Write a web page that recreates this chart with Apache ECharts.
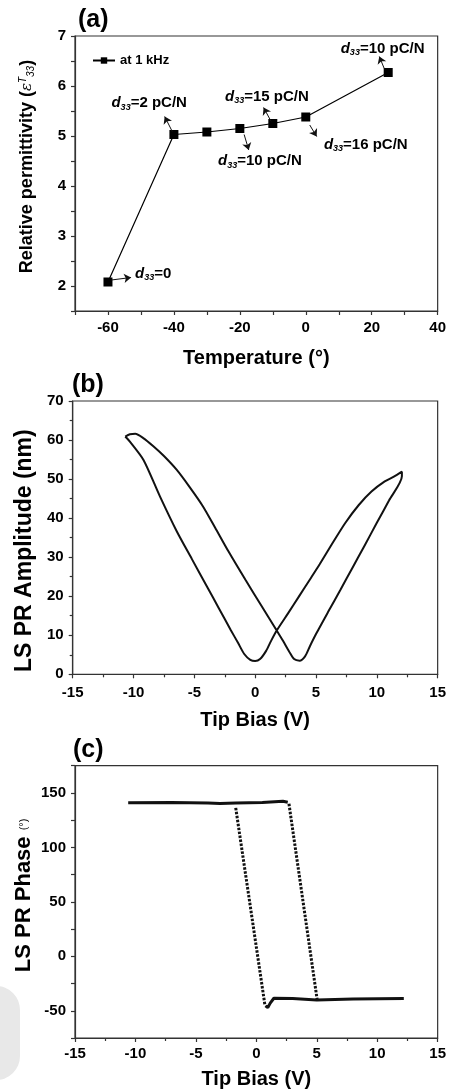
<!DOCTYPE html>
<html><head><meta charset="utf-8">
<script src="https://cdn.jsdelivr.net/npm/echarts@6/dist/echarts.min.js"></script>
<style>html,body{margin:0;padding:0;background:#fff}#c{width:449px;height:1090px}</style>
</head><body><div id="c"></div>
<script>
// ---------- Panel (a): relative permittivity vs temperature ----------
const tempC = [-60, -40, -30, -20, -10, 0, 25];
const permittivity = [2.08, 5.03, 5.08, 5.15, 5.25, 5.38, 6.27];
// d33 notes: label text, label anchor [x,y], arrow tail [x,y], arrow head [x,y]
const noteText = ['=0', '=2 pC/N', '=10 pC/N', '=15 pC/N', '=16 pC/N', '=10 pC/N'];
const noteAt   = [[-46.3, 2.25], [-47.5, 5.66], [-13.9, 4.50], [-11.8, 5.79], [18.2, 4.83], [23.3, 6.75]];
const noteTail = [[-59.0, 2.12], [-40.5, 5.09], [-18.7, 5.03], [-10.5, 5.29], [1.2, 5.22], [23.8, 6.35]];
const noteHead = [[-53.0, 2.17], [-42.8, 5.39], [-17.3, 4.72], [-12.8, 5.57], [3.3, 4.99], [22.3, 6.59]];

// ---------- Panel (b): LS PR amplitude loop (V, nm) ----------
const ampSweepA = [[-10.68,60.9],[-10.3,59.6],[-9.18,54.9],[-7.82,45.5],[-6.46,36.7],[-5.2,29.5],[-4.0,22.7],[-3.0,17.0],[-2.0,11.3],[-1.4,8.0],[-0.9,5.2],[-0.4,3.7],[0.0,3.4],[0.4,3.9],[0.9,6.0],[1.3,8.5],[1.77,11.2],[2.7,15.6],[3.59,19.9],[4.5,24.3],[5.3,28.2],[6.3,33.3],[7.39,38.7],[8.5,43.3],[9.56,46.8],[10.65,49.4],[11.4,50.6],[12.06,51.9]];
const ampSweepB = [[12.06,50.7],[11.0,44.5],[10.0,38.8],[9.0,33.0],[8.0,27.3],[7.0,21.6],[6.0,16.0],[5.0,10.3],[4.5,7.2],[4.1,4.6],[3.65,3.5],[3.2,3.9],[2.8,5.8],[2.3,8.5],[1.77,11.2],[0.5,17.6],[-0.8,24.2],[-2.2,31.5],[-3.3,37.6],[-4.29,43.0],[-5.4,48.0],[-6.46,52.4],[-7.5,55.9],[-8.37,58.4],[-9.2,60.5],[-9.86,61.6],[-10.3,61.5],[-10.68,60.9]];

// ---------- Panel (c): LS PR phase loop (V, deg) ----------
const phaseUpper = [[-10.6,141.0],[-7.0,141.2],[-4.0,140.8],[-3.0,140.2],[-1.7,140.8],[0.5,141.2],[2.2,142.4],[2.6,141.5]];
const phaseLower = [[0.75,-45.5],[0.95,-47.0],[1.15,-43.0],[1.45,-38.5],[3.0,-38.8],[5.0,-40.2],[8.0,-39.3],[12.2,-38.8]];
const phaseSwitchUp = [[0.7,-44.0],[-1.72,137.5]];
const phaseSwitchDown = [[2.7,140.0],[5.04,-40.4]];

const FONT = '"Liberation Sans", Arial, sans-serif';
const AX = '#333';
const INK = '#000';

function axisCommon(extra) {
  return Object.assign({
    type: 'value',
    splitLine: { show: false },
    axisLine: { show: true, onZero: false, lineStyle: { color: AX, width: 1.2 } },
    axisTick: { show: true, inside: false, length: 4, lineStyle: { color: AX, width: 1.2 } },
    axisLabel: { color: INK, fontFamily: FONT, fontWeight: 'bold', fontSize: 15, margin: 8 },
    nameLocation: 'middle',
    nameTextStyle: { color: INK, fontFamily: FONT, fontWeight: 'bold', fontSize: 20 }
  }, extra);
}

const chart = echarts.init(document.getElementById('c'), null, { renderer: 'canvas' });

const noteData = noteText.map((t, i) => [noteAt[i][0], noteAt[i][1], t]);
const arrowData = noteTail.map((t, i) => [{ coord: t }, { coord: noteHead[i] }]);

const option = {
  animation: false,
  backgroundColor: '#fff',
  grid: [
    { left: 75, right: 7.5, top: 36, height: 275, show: true, borderColor: AX, borderWidth: 1.2 },
    { left: 72.7, right: 8, top: 401, height: 273.3, show: true, borderColor: AX, borderWidth: 1.2 },
    { left: 75, right: 7.3, top: 765.7, height: 273.6, show: true, borderColor: AX, borderWidth: 1.2 }
  ],
  legend: {
    data: ['at 1 kHz'], left: 92, top: 54, padding: 0,
    itemWidth: 22, itemHeight: 8, itemGap: 4,
    textStyle: { color: INK, fontFamily: FONT, fontWeight: 'bold', fontSize: 13 }
  },
  xAxis: [
    axisCommon({ gridIndex: 0, min: -70, max: 40, interval: 10,
      axisLabel: { color: INK, fontFamily: FONT, fontWeight: 'bold', fontSize: 15, margin: 9,
        formatter: v => (v % 20 === 0 ? String(v) : '') },
      name: 'Temperature (°)', nameGap: 37 }),
    axisCommon({ gridIndex: 1, min: -15, max: 15, interval: 5,
      minorTick: { show: true, splitNumber: 2, length: 3, lineStyle: { color: AX, width: 1.2 } },
      axisLabel: { color: INK, fontFamily: FONT, fontWeight: 'bold', fontSize: 15, margin: 11 },
      name: 'Tip Bias (V)', nameGap: 36 }),
    axisCommon({ gridIndex: 2, min: -15, max: 15, interval: 5,
      minorTick: { show: true, splitNumber: 2, length: 3, lineStyle: { color: AX, width: 1.2 } },
      axisLabel: { color: INK, fontFamily: FONT, fontWeight: 'bold', fontSize: 15, margin: 8 },
      name: 'Tip Bias (V)', nameGap: 31 })
  ],
  yAxis: [
    axisCommon({ gridIndex: 0, min: 1.5, max: 7, interval: 0.5,
      axisLabel: { color: INK, fontFamily: FONT, fontWeight: 'bold', fontSize: 15, margin: 9,
        formatter: v => (Math.abs(v - Math.round(v)) < 1e-6 ? String(Math.round(v)) : '') },
      name: 'Relative permittivity ({e|ε}{t|T}{s|33})', nameGap: 39,
      nameTextStyle: { color: INK, fontFamily: FONT, fontWeight: 'bold', fontSize: 18, padding: [0, 0, 0, 14],
        rich: {
          e: { fontFamily: '"DejaVu Serif", serif', fontStyle: 'italic', fontWeight: 'normal', fontSize: 15, color: INK },
          t: { fontFamily: FONT, fontStyle: 'italic', fontWeight: 'normal', fontSize: 10, verticalAlign: 'top', color: INK },
          s: { fontFamily: FONT, fontStyle: 'italic', fontWeight: 'normal', fontSize: 10, verticalAlign: 'bottom', color: INK }
        } } }),
    axisCommon({ gridIndex: 1, min: 0, max: 70, interval: 10,
      minorTick: { show: true, splitNumber: 2, length: 3, lineStyle: { color: AX, width: 1.2 } },
      axisLabel: { color: INK, fontFamily: FONT, fontWeight: 'bold', fontSize: 15, margin: 9 },
      name: 'LS PR Amplitude (nm)', nameGap: 36,
      nameTextStyle: { color: INK, fontFamily: FONT, fontWeight: 'bold', fontSize: 23, padding: [0, 26, 0, 0] } }),
    axisCommon({ gridIndex: 2, min: -75, max: 175, interval: 25,
      axisLabel: { color: INK, fontFamily: FONT, fontWeight: 'bold', fontSize: 15, margin: 9,
        formatter: v => (v % 50 === 0 ? String(v) : '') },
      name: 'LS PR Phase {u|(°)}', nameGap: 40, nameMoveOverlap: false,
      nameTextStyle: { color: INK, fontFamily: FONT, fontWeight: 'bold', fontSize: 22, padding: [0, 0, 0, 13],
        rich: { u: { fontFamily: FONT, fontWeight: 'normal', fontSize: 11, color: INK } } } })
  ],
  series: [
    {
      name: 'at 1 kHz', type: 'line', xAxisIndex: 0, yAxisIndex: 0,
      data: tempC.map((t, i) => [t, permittivity[i]]),
      symbol: 'rect', symbolSize: 9, showSymbol: true,
      itemStyle: { color: '#000' }, lineStyle: { color: '#000', width: 1.2 },
      markLine: {
        silent: true, symbol: ['none', 'arrow'], symbolSize: 7,
        label: { show: false },
        itemStyle: { color: '#111' },
        lineStyle: { color: '#111', width: 1, type: 'solid' },
        emphasis: { disabled: true },
        data: arrowData
      }
    },
    {
      name: 'notes', type: 'scatter', xAxisIndex: 0, yAxisIndex: 0,
      data: noteData, symbolSize: 0, silent: true,
      itemStyle: { opacity: 1 },
      label: {
        show: true, position: 'inside', color: INK, textBorderWidth: 0, opacity: 1,
        formatter: p => '{d|d}{s|33}{n|' + p.data[2] + '}',
        rich: {
          d: { fontFamily: FONT, fontStyle: 'italic', fontWeight: 'bold', fontSize: 15, color: INK, lineHeight: 18, textBorderWidth: 0 },
          s: { fontFamily: FONT, fontStyle: 'italic', fontWeight: 'bold', fontSize: 9, color: INK, verticalAlign: 'bottom', lineHeight: 18, textBorderWidth: 0 },
          n: { fontFamily: FONT, fontWeight: 'bold', fontSize: 15, color: INK, lineHeight: 18, textBorderWidth: 0 }
        }
      }
    },
    {
      name: 'amplitude', type: 'line', xAxisIndex: 1, yAxisIndex: 1,
      data: ampSweepA.concat(ampSweepB), showSymbol: false, smooth: 0.25,
      lineStyle: { color: '#111', width: 2 }
    },
    { name: 'phase top', type: 'line', xAxisIndex: 2, yAxisIndex: 2, data: phaseUpper,
      showSymbol: false, lineStyle: { color: '#111', width: 3 } },
    { name: 'phase bottom', type: 'line', xAxisIndex: 2, yAxisIndex: 2, data: phaseLower,
      showSymbol: false, lineStyle: { color: '#111', width: 3 } },
    { name: 'phase switch up', type: 'line', xAxisIndex: 2, yAxisIndex: 2, data: phaseSwitchUp,
      showSymbol: false, lineStyle: { color: '#111', width: 3, type: [2.5, 1.5], cap: 'butt' } },
    { name: 'phase switch down', type: 'line', xAxisIndex: 2, yAxisIndex: 2, data: phaseSwitchDown,
      showSymbol: false, lineStyle: { color: '#111', width: 3, type: [2.5, 1.5], cap: 'butt' } }
  ],
  graphic: [
    { type: 'rect', z: -10, shape: { x: -30, y: 986, width: 50, height: 94, r: 24 }, style: { fill: '#e8e8e8' } },
    { type: 'text', left: 78, top: 8, style: { text: '(a)', font: 'bold 25px ' + FONT, fill: INK } },
    { type: 'text', left: 72, top: 373, style: { text: '(b)', font: 'bold 25px ' + FONT, fill: INK } },
    { type: 'text', left: 73, top: 738, style: { text: '(c)', font: 'bold 25px ' + FONT, fill: INK } }
  ]
};
chart.setOption(option);
</script>
</body></html>
